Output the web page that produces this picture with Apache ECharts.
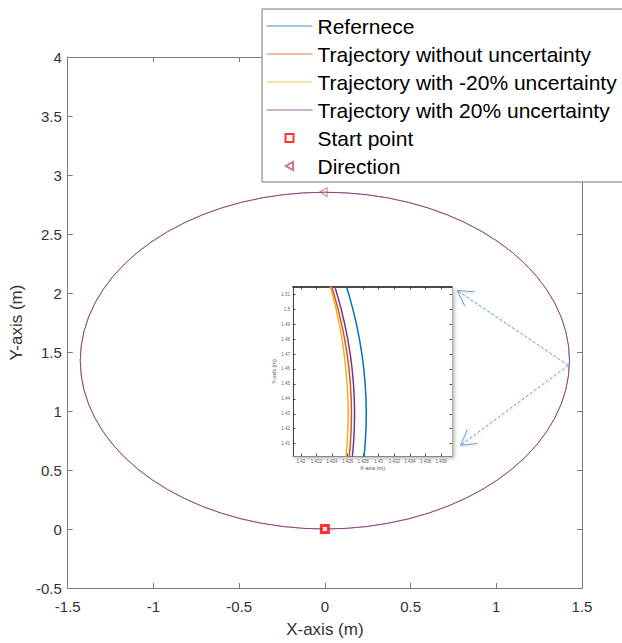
<!DOCTYPE html>
<html><head><meta charset="utf-8">
<script src="https://cdn.jsdelivr.net/npm/echarts@6/dist/echarts.min.js"></script>
<style>html,body{margin:0;padding:0;background:#fff}#c{width:622px;height:643px}</style>
</head><body><div id="c"></div>
<script>
// ---- data ----
const seriesNames = ['Refernece', 'Trajectory without uncertainty', 'Trajectory with -20% uncertainty', 'Trajectory with 20% uncertainty', 'Start point', 'Direction'];
const seriesColors = ['#0072BD', '#D95319', '#EDB120', '#7E2F8E'];

// main view: the four trajectories coincide at this scale (differences < 0.002 m)
const pathX = [0, 0.1244, 0.2478, 0.3693, 0.4881, 0.6031, 0.7135, 0.8185, 0.9173, 1.0090, 1.0931, 1.1689, 1.2358, 1.2933, 1.3410, 1.3784, 1.4053, 1.4216, 1.427,
  1.4216, 1.4053, 1.3784, 1.3410, 1.2933, 1.2358, 1.1689, 1.0931, 1.0090, 0.9173, 0.8185, 0.7135, 0.6031, 0.4881, 0.3693, 0.2478, 0.1244, 0,
  -0.1244, -0.2478, -0.3693, -0.4881, -0.6031, -0.7135, -0.8185, -0.9173, -1.0090, -1.0931, -1.1689, -1.2358, -1.2933, -1.3410, -1.3784, -1.4053, -1.4216, -1.427,
  -1.4216, -1.4053, -1.3784, -1.3410, -1.2933, -1.2358, -1.1689, -1.0931, -1.0090, -0.9173, -0.8185, -0.7135, -0.6031, -0.4881, -0.3693, -0.2478, -0.1244, 0];
const pathY = [0, 0.0054, 0.0217, 0.0486, 0.0860, 0.1337, 0.1912, 0.2581, 0.3339, 0.4180, 0.5097, 0.6085, 0.7135, 0.8239, 0.9389, 1.0577, 1.1792, 1.3026, 1.427,
  1.5514, 1.6748, 1.7963, 1.9151, 2.0301, 2.1405, 2.2455, 2.3443, 2.4360, 2.5201, 2.5959, 2.6628, 2.7203, 2.7680, 2.8054, 2.8323, 2.8486, 2.854,
  2.8486, 2.8323, 2.8054, 2.7680, 2.7203, 2.6628, 2.5959, 2.5201, 2.4360, 2.3443, 2.2455, 2.1405, 2.0301, 1.9151, 1.7963, 1.6748, 1.5514, 1.427,
  1.3026, 1.1792, 1.0577, 0.9389, 0.8239, 0.7135, 0.6085, 0.5097, 0.4180, 0.3339, 0.2581, 0.1912, 0.1337, 0.0860, 0.0486, 0.0217, 0.0054, 0];

const startPoint = [0, 0];
const directionPoint = [-0.008, 2.855];

// inset (zoom near x = 1.427, y = 1.43)
const insetY    = [1.39, 1.41, 1.43, 1.45, 1.47, 1.49, 1.51, 1.53];
const refInsetX = [1.42784, 1.42826, 1.4284, 1.42826, 1.42784, 1.42714, 1.42616, 1.4249];
const nomInsetX = [1.42594, 1.42636, 1.4265, 1.42636, 1.42594, 1.42524, 1.42426, 1.4230];
const negInsetX = [1.42556, 1.42594, 1.42608, 1.42594, 1.42556, 1.42494, 1.42406, 1.4229];
const posInsetX = [1.42634, 1.42676, 1.4269, 1.42676, 1.42634, 1.42564, 1.42466, 1.4234];

// tick labels
const mainXTicks = ['-1.5', '-1', '-0.5', '0', '0.5', '1', '1.5'];
const mainYTicks = ['-0.5', '0', '0.5', '1', '1.5', '2', '2.5', '3', '3.5', '4'];
const insetXTicks = [1.42, 1.422, 1.424, 1.426, 1.428, 1.43, 1.432, 1.434, 1.436, 1.438];
const insetYTicks = [1.41, 1.42, 1.43, 1.44, 1.45, 1.46, 1.47, 1.48, 1.49, 1.5, 1.51];

// annotation arrows (main data coords)
const arrowFrom = [1.421, 1.387];
const arrowTips = [[0.772, 2.021], [0.791, 0.709]];

// ---- chart ----
const F = 'Liberation Sans, Arial, Helvetica, sans-serif';
const AX = '#7a7a7a';
const pairs = (xs, ys) => xs.map((x, i) => [x, ys[i]]);
const insetData = [refInsetX, nomInsetX, negInsetX, posInsetX].map(xs => xs.map((x, i) => [x, insetY[i]]));

const mainX = {min: Number(mainXTicks[0]), max: Number(mainXTicks[mainXTicks.length - 1]), interval: 0.5};
const mainY = {min: Number(mainYTicks[0]), max: Number(mainYTicks[mainYTicks.length - 1]), interval: 0.5};

function mainAxis(base, pos, showLabel, extra) {
  return Object.assign({
    type: 'value', gridIndex: 0, position: pos,
    min: base.min, max: base.max, interval: base.interval,
    axisLine: {onZero: false, lineStyle: {color: AX, width: 1}},
    axisTick: {inside: true, length: 5, lineStyle: {color: AX}},
    axisLabel: {show: showLabel, color: '#333', fontSize: 15, fontFamily: F, showMinLabel: true, showMaxLabel: true},
    splitLine: {show: false}
  }, extra || {});
}
function insetAxis(pos, min, max, ticks, lineColor, lineWidth, showLabel, extra) {
  return Object.assign({
    type: 'value', gridIndex: 1, position: pos, min: min, max: max,
    axisLine: {onZero: false, lineStyle: {color: lineColor, width: lineWidth}},
    axisTick: {inside: true, length: 2.5, customValues: ticks, lineStyle: {color: '#222', width: 0.8}},
    axisLabel: {show: showLabel, customValues: ticks, color: '#666', fontSize: 4.5, fontFamily: F, margin: 3},
    splitLine: {show: false}
  }, extra || {});
}

const series = [];
for (let k = 0; k < 4; k++) {
  series.push({
    type: 'line', name: seriesNames[k], xAxisIndex: 0, yAxisIndex: 0,
    data: pairs(pathX, pathY), symbol: 'none', smooth: false,
    lineStyle: {color: seriesColors[k], width: k === 3 ? 1 : 0.4, opacity: k === 3 ? 0.85 : 0.6},
    itemStyle: {color: seriesColors[k]}, z: 2
  });
}
for (let k = 0; k < 4; k++) {
  series.push({
    type: 'line', name: seriesNames[k], xAxisIndex: 2, yAxisIndex: 2,
    data: insetData[k], symbol: 'none', smooth: true, clip: true,
    lineStyle: {color: seriesColors[k], width: 1.5}, itemStyle: {color: seriesColors[k]}, z: 3
  });
}
series.push({
  type: 'scatter', name: seriesNames[4], xAxisIndex: 0, yAxisIndex: 0,
  data: [startPoint], symbol: 'path://M0,0 L10,0 L10,10 L0,10 Z', symbolSize: 7, symbolKeepAspect: true,
  itemStyle: {color: '#ffffff', borderColor: '#ff0000', borderWidth: 3}, z: 5
});
series.push({
  type: 'scatter', name: seriesNames[5], xAxisIndex: 0, yAxisIndex: 0,
  data: [directionPoint], symbol: 'path://M0,5 L9,0 L9,10 Z', symbolSize: [8, 9], symbolKeepAspect: true,
  itemStyle: {color: 'rgba(255,255,255,0)', borderColor: '#c0506b', borderWidth: 1}, z: 5
});

const legendData = seriesNames.map((n, i) => i < 4
  ? {name: n, itemStyle: {opacity: 0}, lineStyle: {width: 1, color: seriesColors[i], opacity: 0.75}}
  : {name: n});

const chart = echarts.init(document.getElementById('c'), null, {renderer: 'svg'});
chart.setOption({
  animation: false,
  backgroundColor: '#ffffff',
  grid: [
    {left: 63, top: 57, width: 519, height: 536, show: false},
    {left: 293, top: 287, width: 159, height: 169, show: true, backgroundColor: '#ffffff', borderWidth: 0,
     shadowBlur: 4, shadowColor: 'rgba(0,0,0,0.35)', shadowOffsetX: 2, shadowOffsetY: 2}
  ],
  xAxis: [
    mainAxis(mainX, 'bottom', true, {name: 'X-axis (m)', nameLocation: 'middle', nameGap: 33,
      nameTextStyle: {fontSize: 17, color: '#333', fontFamily: F}, axisLabel: {color: '#333', fontSize: 15, fontFamily: F, margin: 11, showMinLabel: true, showMaxLabel: true}}),
    mainAxis(mainX, 'top', false),
    insetAxis('bottom', 1.419, 1.4394, insetXTicks, '#888', 1, true, {name: 'X-axis (m)', nameLocation: 'middle', nameGap: 9,
      nameTextStyle: {fontSize: 5.5, color: '#555', fontFamily: F}}),
    insetAxis('top', 1.419, 1.4394, insetXTicks, '#111', 1.5, false)
  ],
  yAxis: [
    mainAxis(mainY, 'left', true, {name: 'Y-axis (m)', nameLocation: 'middle', nameGap: 41,
      nameTextStyle: {fontSize: 17, color: '#333', fontFamily: F}, axisLabel: {color: '#333', fontSize: 15, fontFamily: F, margin: 6, showMinLabel: true, showMaxLabel: true}}),
    mainAxis(mainY, 'right', false),
    insetAxis('left', 1.4017, 1.5149, insetYTicks, '#444', 1, true, {name: 'Y-axis (m)', nameLocation: 'middle', nameGap: 13,
      nameTextStyle: {fontSize: 5.5, color: '#555', fontFamily: F}}),
    insetAxis('right', 1.4017, 1.5149, insetYTicks, '#aaa', 1, false)
  ],
  legend: {
    orient: 'vertical', left: 262, top: 9, padding: [3, 12, 2, 4], itemGap: 0,
    itemWidth: 46, itemHeight: 8, backgroundColor: '#ffffff', borderColor: '#777', borderWidth: 1,
    selectedMode: false, z: 10, symbolKeepAspect: true,
    textStyle: {fontSize: 21, lineHeight: 28, color: '#000', fontFamily: F},
    data: legendData
  },
  series: series
});

// annotation arrows from the main curve to the inset corners
const P = d => chart.convertToPixel({xAxisIndex: 0, yAxisIndex: 0}, d);
const AC = '#6f9bd6';
const graphics = [];
const from = P(arrowFrom);
arrowTips.forEach(t => {
  const tip = P(t);
  const dx = from[0] - tip[0], dy = from[1] - tip[1];
  const L = Math.hypot(dx, dy), ux = dx / L, uy = dy / L;
  const wing = a => {
    const c = Math.cos(a), s = Math.sin(a);
    return [tip[0] + 17 * (ux * c - uy * s), tip[1] + 17 * (ux * s + uy * c)];
  };
  const sh = {shadowBlur: 2, shadowColor: 'rgba(0,0,0,0.18)', shadowOffsetX: 1, shadowOffsetY: 1};
  graphics.push({type: 'line', z: 20, shape: {x1: from[0], y1: from[1], x2: tip[0], y2: tip[1]},
    style: Object.assign({stroke: AC, lineWidth: 1, lineDash: [3, 2]}, sh)});
  graphics.push({type: 'polyline', z: 20, shape: {points: [wing(Math.PI / 6), tip, wing(-Math.PI / 6)]},
    style: Object.assign({stroke: AC, lineWidth: 1, fill: null}, sh)});
});
chart.setOption({graphic: graphics});
</script>
</body></html>
